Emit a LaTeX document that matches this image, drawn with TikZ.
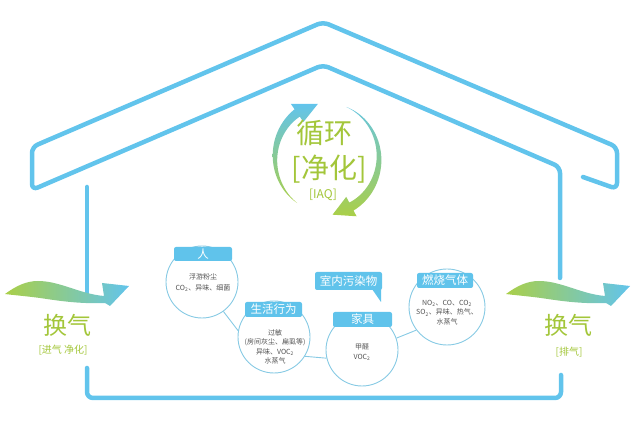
\documentclass[tikz,border=0pt]{standalone}
\usepackage{fontspec}
\setmainfont{Noto Sans CJK SC}
\definecolor{hblue}{RGB}{98,196,236}
\definecolor{tblue}{RGB}{96,195,235}
\definecolor{lgreen}{RGB}{170,207,72}
\definecolor{tealc}{RGB}{104,198,222}
\definecolor{tgreen}{RGB}{163,198,58}
\definecolor{cline}{RGB}{135,202,228}
\definecolor{txt}{RGB}{85,85,85}
\begin{document}
\begin{tikzpicture}[x=1pt,y=1pt,
  house/.style={line width=4.5pt, draw=hblue, line cap=round, line join=round, rounded corners=6pt},
  bub/.style={circle, draw=cline, line width=0.9pt, fill=white, minimum size=72pt, inner sep=0pt},
  hdr/.style={fill=tblue, text=white, rounded corners=2pt, minimum width=57pt, minimum height=15pt, inner sep=0pt, font=\fontsize{11.5}{12}\selectfont},
  small/.style={text=txt, font=\fontsize{7}{9.4}\selectfont, align=center, inner sep=0pt},
  gtext/.style={text=tgreen, inner sep=0pt},
  link/.style={draw=cline, line width=0.9pt}]
\useasboundingbox (0,0) rectangle (640,425);

% house
\draw[house] (583,248) -- (617,236) -- (617,278) -- (323,403) -- (32,278) -- (32,235) -- (323,360) -- (560,258) -- (560,147);
\draw[house] (87,238) -- (87,128);
\draw[house] (87,57) -- (87,27) -- (561,27) -- (561,50);

% ventilation arrows
\foreach \s in {0,501}{
  \begin{scope}[xshift=\s pt]
  \shade[left color=lgreen, right color=hblue]
    (5,131) .. controls (16,139) and (26,144) .. (38,144)
    .. controls (60,144) and (80,131) .. (104,129)
    -- (102,142) -- (129,139) -- (110,119) -- (105,122)
    .. controls (80,121) and (60,124) .. (40,127)
    .. controls (25,129) and (12,130) .. (5,131) -- cycle;
  \end{scope}
}

% circulation arcs
\shade[top color=hblue, bottom color=lgreen]
  plot[domain=235:125, samples=40, variable=\a] ({327+(52+4.5*(235-\a)/110)*cos(\a)}, {267+(55+4.5*(235-\a)/110)*sin(\a)})
  -- ({327+63*cos(125)},{267+66*sin(125)}) -- ({327+52*cos(100)},{267+55*sin(100)}) -- ({327+41*cos(125)},{267+44*sin(125)})
  -- plot[domain=125:235, samples=40, variable=\a] ({327+(52-4.5*(235-\a)/110)*cos(\a)}, {267+(55-4.5*(235-\a)/110)*sin(\a)})
  -- cycle;
\shade[top color=tealc, bottom color=lgreen]
  plot[domain=68:-62, samples=40, variable=\a] ({327+(52+4.5*(68-\a)/130)*cos(\a)}, {267+(55+4.5*(68-\a)/130)*sin(\a)})
  -- ({327+63*cos(-62)},{267+66*sin(-62)}) -- ({327+53*cos(-84)},{267+57*sin(-84)}) -- ({327+41*cos(-62)},{267+44*sin(-62)})
  -- plot[domain=-62:68, samples=40, variable=\a] ({327+(52-4.5*(68-\a)/130)*cos(\a)}, {267+(55-4.5*(68-\a)/130)*sin(\a)})
  -- cycle;

% centre texts
\node[gtext, font=\fontsize{28}{28}\selectfont] (xh) at (324,292) {循环};
\node[gtext, font=\fontsize{28}{28}\selectfont] (jh) at (329,256) {[净化]};
\node[gtext, font=\fontsize{12}{12}\selectfont] (iaq) at (323,230) {[IAQ]};

% side texts
\node[gtext, font=\fontsize{24}{24}\selectfont] (hl) at (67,100) {换气};
\node[gtext, font=\fontsize{10}{10}\selectfont] (hls) at (63,75) {[进气 净化]};
\node[gtext, font=\fontsize{24}{24}\selectfont] (hr) at (568,100) {换气};
\node[gtext, font=\fontsize{10}{10}\selectfont] (hrs) at (569,73) {[排气]};

% bubbles
\node[bub] (c1) at (202,143) {};
\node[bub] (c2) at (274,88) {};
\node[bub] (c3) at (362,75) {};
\node[bub, minimum size=76pt] (c4) at (447,118) {};
\draw[link] (c1.-54) -- (c2.170);
\draw[link] (c2.-32) -- (c3.193);
\draw[link] (c3.19) -- (c4.217);

\node[hdr, minimum width=58pt, minimum height=14pt] (h1) at (203,171) {人};
\node[hdr] (h2) at (273.5,115.5) {生活行为};
\node[hdr, minimum width=59pt] (h3) at (362.5,105.5) {家具};
\node[hdr, minimum width=56pt] (h4) at (445,144.5) {燃烧气体};

\node[small] (t1) at (203,142.5) {浮游粉尘\\[1pt]CO\textsubscript{2}、异味、细菌};
\node[small] (t2) at (275,78) {过敏\\(房间灰尘、扁虱等)\\异味、VOC\textsubscript{2}\\水蒸气};
\node[small] (t3) at (362,73) {甲醛\\VOC\textsubscript{2}};
\node[small] (t4) at (447,112.5) {NO\textsubscript{2}、CO、CO\textsubscript{2}\\SO\textsubscript{2}、异味、热气、\\水蒸气};

% speech bubble
\fill[tblue, rounded corners=2pt] (315,135) rectangle (382,153);
\fill[tblue] (372,136) -- (381,123) -- (381,136) -- cycle;
\node[text=white, font=\fontsize{11.5}{12}\selectfont, inner sep=0pt] (sp) at (348.5,144) {室内污染物};
\end{tikzpicture}
\end{document}
